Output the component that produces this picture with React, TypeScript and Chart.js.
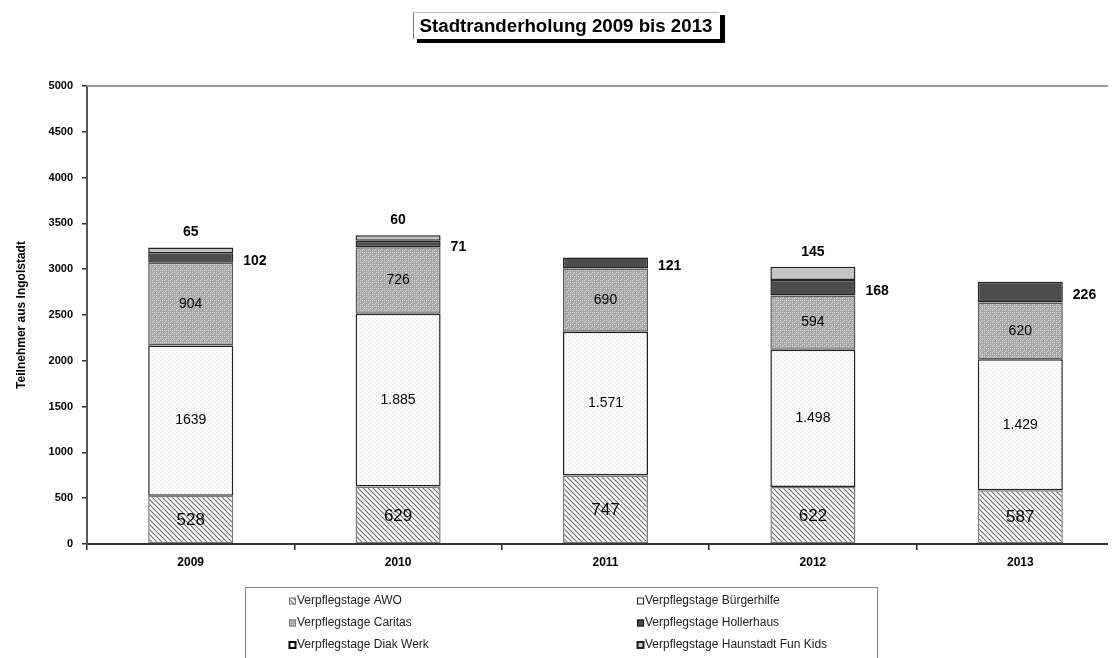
import React, { useEffect, useRef } from "react";
import { Chart, registerables } from "chart.js";

Chart.register(...registerables);

const categories = ["2009", "2010", "2011", "2012", "2013"];
const awo = [528, 629, 747, 622, 587];
const buergerhilfe = [1639, 1885, 1571, 1498, 1429];
const buergerhilfeLabels = ["1639", "1.885", "1.571", "1.498", "1.429"];
const caritas = [904, 726, 690, 594, 620];
const hollerhaus = [102, 71, 121, 168, 226];
const funKids = [65, 60, 0, 145, 0];
const diakWerk = [0, 0, 0, 0, 0];
const yMax = 5000;
const yStep = 500;

const titleText = "Stadtranderholung 2009 bis 2013";
const yTitle = "Teilnehmer aus Ingolstadt";
const legendLabels = [
  "Verpflegstage AWO",
  "Verpflegstage Bürgerhilfe",
  "Verpflegstage Caritas",
  "Verpflegstage Hollerhaus",
  "Verpflegstage Diak Werk",
  "Verpflegstage Haunstadt Fun Kids",
];

const FONT = "'Liberation Sans', Arial, sans-serif";

function makeTile(size: number, draw: (g: CanvasRenderingContext2D) => void) {
  const c = document.createElement("canvas");
  c.width = size;
  c.height = size;
  const g = c.getContext("2d")!;
  draw(g);
  return c;
}

function patterns(ctx: CanvasRenderingContext2D) {
  const hatchTile = makeTile(5, (g) => {
    g.fillStyle = "#ffffff";
    g.fillRect(0, 0, 5, 5);
    g.strokeStyle = "#6a6a6a";
    g.lineWidth = 1.1;
    g.beginPath();
    g.moveTo(-1, -1);
    g.lineTo(6, 6);
    g.moveTo(-1, 4);
    g.lineTo(1, 6);
    g.moveTo(4, -1);
    g.lineTo(6, 1);
    g.stroke();
  });
  const dotTile = makeTile(4, (g) => {
    g.fillStyle = "#fbfbfb";
    g.fillRect(0, 0, 4, 4);
    g.fillStyle = "#e2e2e2";
    g.fillRect(0, 0, 1, 1);
    g.fillRect(2, 2, 1, 1);
  });
  const checkTile = makeTile(6, (g) => {
    g.fillStyle = "#a6a6a6";
    g.fillRect(0, 0, 6, 6);
    g.fillStyle = "#d8d8d8";
    for (let i = 0; i < 6; i += 2) {
      g.fillRect(i, 0, 1, 1);
      g.fillRect(0, i, 1, 1);
    }
    g.fillRect(3, 3, 1, 1);
    g.fillRect(2, 4, 1, 1);
    g.fillRect(4, 2, 1, 1);
  });
  return {
    hatch: ctx.createPattern(hatchTile, "repeat")!,
    dots: ctx.createPattern(dotTile, "repeat")!,
    check: ctx.createPattern(checkTile, "repeat")!,
  };
}

export default function App() {
  const ref = useRef<HTMLCanvasElement | null>(null);

  useEffect(() => {
    const canvas = ref.current!;
    const ctx = canvas.getContext("2d")!;
    const p = patterns(ctx);

    const fills = [p.hatch, p.dots, p.check, "#4d4d4d", "#ffffff", "#c4c4c4"];

    const customPlugin = {
      id: "custom",
      afterDraw(chart: any) {
        const c: CanvasRenderingContext2D = chart.ctx;
        const area = chart.chartArea;
        c.save();

        // top plot line
        c.strokeStyle = "#9a9a9a";
        c.lineWidth = 2;
        c.beginPath();
        c.moveTo(area.left, area.top);
        c.lineTo(area.right, area.top);
        c.stroke();

        // labels
        c.fillStyle = "#000";
        c.textBaseline = "middle";
        const m0 = chart.getDatasetMeta(0).data;
        const m1 = chart.getDatasetMeta(1).data;
        const m2 = chart.getDatasetMeta(2).data;
        const m3 = chart.getDatasetMeta(3).data;
        const m5 = chart.getDatasetMeta(5).data;
        for (let i = 0; i < categories.length; i++) {
          c.textAlign = "center";
          let b = m0[i];
          c.font = `17px ${FONT}`;
          c.fillText(String(awo[i]), b.x, (b.y + b.base) / 2 + 1);
          b = m1[i];
          c.font = `14px ${FONT}`;
          c.fillText(buergerhilfeLabels[i], b.x, (b.y + b.base) / 2);
          b = m2[i];
          c.fillText(String(caritas[i]), b.x, (b.y + b.base) / 2);
          b = m3[i];
          c.font = `bold 14px ${FONT}`;
          c.textAlign = "left";
          c.fillText(String(hollerhaus[i]), b.x + b.width / 2 + 10, (b.y + b.base) / 2 + 3);
          if (funKids[i] > 0) {
            b = m5[i];
            c.textAlign = "center";
            c.fillText(String(funKids[i]), b.x, b.y - 15);
          }
        }

        // title box
        c.font = `bold 16px ${FONT}`;
        const w16 = c.measureText(titleText).width;
        const fs = (16 * 293) / w16;
        c.font = `bold ${fs.toFixed(2)}px ${FONT}`;
        c.fillStyle = "#000";
        c.fillRect(720, 15, 5, 28);
        c.fillRect(417, 39, 308, 4);
        c.fillStyle = "#fff";
        c.fillRect(413, 12, 307, 27);
        c.strokeStyle = "#bbb";
        c.lineWidth = 1;
        c.beginPath();
        c.moveTo(413.5, 12.5);
        c.lineTo(719.5, 12.5);
        c.stroke();
        c.strokeStyle = "#777";
        c.beginPath();
        c.moveTo(413.5, 12.5);
        c.lineTo(413.5, 39);
        c.stroke();
        c.fillStyle = "#000";
        c.textAlign = "center";
        c.textBaseline = "middle";
        c.fillText(titleText, 566, 27);

        // legend
        c.strokeStyle = "#8a8a8a";
        c.lineWidth = 1;
        c.strokeRect(245.5, 587.5, 632, 90);
        const rows = [601, 623, 645];
        const iconX = [289, 637];
        const textX = [297, 645];
        c.font = `12px ${FONT}`;
        c.textAlign = "left";
        const iconFill = [p.hatch, "#ffffff", p.check, "#4d4d4d", "#ffffff", "#c4c4c4"];
        const iconStroke = ["#777", "#222", "#777", "#111", "#000", "#222"];
        const iconLW = [1, 1, 1, 1, 2, 2];
        for (let k = 0; k < legendLabels.length; k++) {
          const r = Math.floor(k / 2);
          const col = k % 2;
          const y = rows[r];
          c.fillStyle = iconFill[k] as any;
          c.fillRect(iconX[col], y - 3.5, 7, 7);
          c.strokeStyle = iconStroke[k];
          c.lineWidth = iconLW[k];
          c.strokeRect(iconX[col] + 0.5, y - 3, 6, 6);
          c.fillStyle = "#222";
          c.fillText(legendLabels[k], textX[col], y);
        }
        c.restore();
      },
    };

    const series = [awo, buergerhilfe, caritas, hollerhaus, diakWerk, funKids];
    const borders = ["#7a7a7a", "#222", "#5a5a5a", "#222", "#222", "#222"];

    const chart = new Chart(canvas, {
      type: "bar",
      data: {
        labels: categories,
        datasets: series.map((s, i) => ({
          label: legendLabels[i],
          data: s.map((v) => (v > 0 ? v : null)),
          backgroundColor: fills[i] as any,
          borderColor: borders[i],
          borderWidth: 1.5,
          borderSkipped: false,
          barPercentage: 0.41,
          categoryPercentage: 1,
        })),
      },
      options: {
        responsive: false,
        animation: false,
        layout: { padding: { left: 0, right: 16, top: 86, bottom: 84 } },
        plugins: {
          legend: { display: false },
          title: { display: false },
          tooltip: { enabled: false },
        },
        scales: {
          x: {
            stacked: true,
            grid: {
              display: true,
              drawOnChartArea: false,
              offset: true,
              tickLength: 6,
              color: "#222",
              lineWidth: 1.5,
            },
            border: { display: true, color: "#333", width: 2 },
            ticks: {
              font: { family: FONT, size: 12, weight: "bold" },
              color: "#000",
              padding: 5,
            },
            afterFit: (s: any) => {
              s.height = 30;
            },
          },
          y: {
            stacked: true,
            min: 0,
            max: yMax,
            ticks: {
              stepSize: yStep,
              font: { family: FONT, size: 11, weight: "bold" },
              color: "#000",
              padding: 9,
              callback: (v: any) => String(v),
            },
            grid: {
              display: true,
              drawOnChartArea: false,
              tickLength: 5,
              color: "#333",
              lineWidth: 1.5,
            },
            border: { display: true, color: "#555", width: 2 },
            title: {
              display: true,
              text: yTitle,
              font: { family: FONT, size: 12, weight: "bold" },
              color: "#000",
              padding: { top: 14, bottom: 0 },
            },
            afterFit: (s: any) => {
              s.width = 87;
            },
          },
        },
      },
      plugins: [customPlugin],
    });
    return () => chart.destroy();
  }, []);

  return (
    <div
      style={{
        position: "absolute",
        left: 0,
        top: 0,
        width: 1108,
        height: 658,
        overflow: "hidden",
        background: "#fff",
      }}
    >
      <canvas ref={ref} width={1140} height={658} style={{ display: "block" }} />
    </div>
  );
}
